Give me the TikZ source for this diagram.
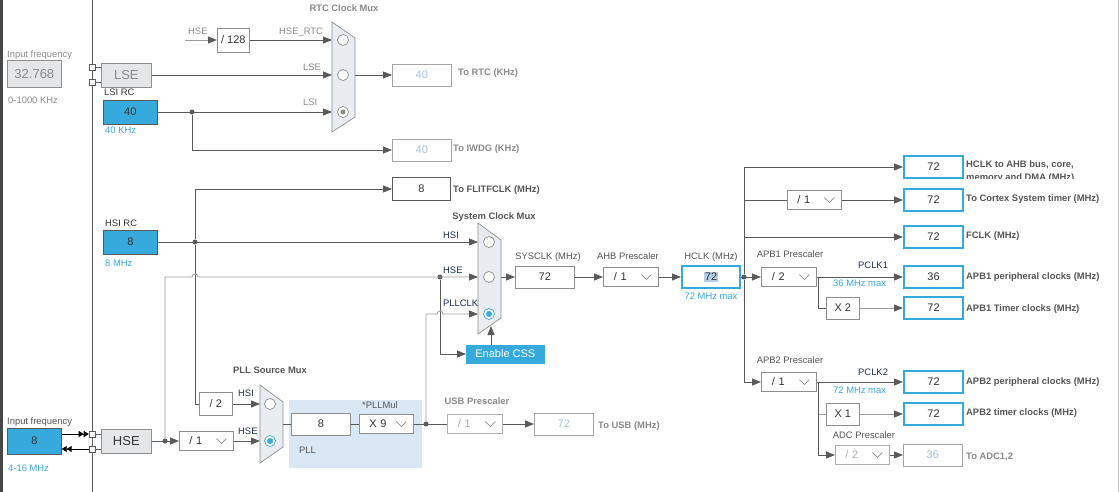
\documentclass[tikz,border=0pt]{standalone}
\usepackage{fontspec}
\setmainfont{Liberation Sans}
\usetikzlibrary{arrows.meta}

\definecolor{cubeblue}{HTML}{36A9DD}
\definecolor{wiregray}{HTML}{5A5A5A}
\definecolor{softgray}{HTML}{9C9C9C}
\definecolor{boxgray}{HTML}{8E8E8E}
\definecolor{oscfill}{HTML}{E5E6E8}
\definecolor{muxfill}{HTML}{E9EDF1}
\definecolor{pllbg}{HTML}{DAE7F4}
\definecolor{hlblue}{HTML}{B8CDE6}
\definecolor{darktext}{HTML}{333333}
\definecolor{labgray}{HTML}{8A8A8A}
\definecolor{midtext}{HTML}{555555}
\definecolor{offtext}{HTML}{A9C1DA}
\definecolor{bluetext}{HTML}{3AA8DC}
\definecolor{navytext}{HTML}{1F2D4D}

\tikzset{
  wire/.style={draw=wiregray, line width=0.8pt},
  soft/.style={draw=softgray, line width=0.8pt},
  arr/.style={-{Triangle[length=9pt,width=7pt,color=wiregray]}},
  dbl/.style={-{Triangle[length=5pt,width=6pt]Triangle[length=5pt,width=6pt]}},
  box/.style={draw=boxgray, line width=0.7pt, fill=white, anchor=west, inner sep=0pt,
    minimum width=59pt, minimum height=22pt, font=\fontsize{11}{12}\selectfont, text=darktext},
  outbox/.style={box, draw=cubeblue, line width=2pt},
  offbox/.style={box, draw=boxgray!80, text=offtext},
  srcbox/.style={box, fill=cubeblue, draw=black!65, minimum width=54pt, minimum height=24pt},
  oscbox/.style={box, fill=oscfill, minimum width=50pt, minimum height=24pt, font=\fontsize{13}{14}\selectfont},
  drop/.style={box, minimum width=54pt, minimum height=19pt, text width=34pt, align=left, inner xsep=10pt,
    path picture={\draw[boxgray, line width=0.6pt] ([shift={(-17,-2.5)}]path picture bounding box.east) -- ++(5,5) -- ++(5,-5);}},
  offdrop/.style={drop, text=labgray!70, draw=boxgray!70},
  mux/.style={draw=boxgray, fill=muxfill, line width=0.7pt},
  sel/.style={circle, draw=boxgray, line width=0.7pt, fill=white, minimum size=11pt, inner sep=0pt},
  dot/.style={circle, fill=wiregray, minimum size=5pt, inner sep=0pt},
  pad/.style={draw=wiregray, fill=white, line width=0.6pt, minimum size=6pt, inner sep=0pt},
  lab/.style={anchor=base west, inner sep=0pt, font=\fontsize{9.4}{11}\selectfont, text=midtext},
  blab/.style={lab, font=\fontsize{9.4}{11}\selectfont\bfseries}
}

\begin{document}
\begin{tikzpicture}[x=1pt,y=-1pt]
  \useasboundingbox (0,0) rectangle (1120,492);
  \fill[black!72] (0,0) rectangle (3,492);
  \draw[black!25, line width=0.8pt] (1118,0) -- (1118,492);
  \draw[wire] (92,0) -- (92,492);
  \fill[pllbg] (289,400) rectangle (422,468);

  \node[oscbox, text=labgray, minimum width=54pt, minimum height=27pt] (lsefreq) at (7,74) {32.768};
  \node[oscbox, text=labgray] (lse) at (101,75) {LSE};
  \node[srcbox] (lsi) at (103,112) {40};
  \node[box, minimum width=32pt, minimum height=24pt] (div128) at (217,40) {/ 128};
  \node[pad] (lsepadA) at (92,67) {};
  \node[pad] (lsepadB) at (92,82) {};
  \draw[mux] (332,22) -- (355,38) -- (355,117) -- (332,132) -- cycle;
  \node[sel] (rtcA) at (343,40) {};
  \node[sel] (rtcB) at (343,75) {};
  \node[sel] (rtcC) at (343,112) {};
  \fill[boxgray] (rtcC) circle (2.6);
  \coordinate (hsein) at (185,40);
  \coordinate (rtcinA) at (332,40);
  \coordinate (rtcinB) at (332,75);
  \coordinate (rtcinC) at (332,112);
  \coordinate (rtcout) at (355,75);
  \node[dot] (lsidot) at (192,112) {};
  \node[offbox] (rtc) at (392,75) {40};
  \node[offbox] (iwdg) at (392,150) {40};

  \draw[wire] (lsepadA.east) -- (lsepadA.east -| lse.west);
  \draw[wire] (lsepadB.east) -- (lsepadB.east -| lse.west);
  \draw[soft, arr] (hsein) -- (div128.west);
  \draw[wire, arr] (div128.east) -- (rtcinA);
  \draw[wire, arr] (lse.east) -- (rtcinB);
  \draw[wire, arr] (lsi.east) -- (rtcinC);
  \draw[wire, arr] (lsidot) |- (iwdg.west);
  \draw[wire, arr] (rtcout) -- (rtc.west);

  \node[srcbox] (hsi) at (103,242) {8};
  \node[box, draw=wiregray, minimum width=58pt, minimum height=23pt] (flit) at (392,189) {8};
  \node[dot] (hsidot) at (195,242) {};
  \draw[mux] (478,223) -- (501,240) -- (501,318) -- (478,334) -- cycle;
  \node[sel] (sysA) at (489,242) {};
  \node[sel] (sysB) at (489,277) {};
  \node[sel, draw=cubeblue] (sysC) at (489,314) {};
  \fill[cubeblue] (sysC) circle (3);
  \coordinate (sysinA) at (478,242);
  \coordinate (sysinB) at (478,277);
  \coordinate (sysinC) at (478,314);
  \coordinate (sysout) at (501,277);
  \coordinate (sysbot) at (491,326);
  \coordinate (hopA) at (192,277);
  \coordinate (hopB) at (437,314);
  \node[dot] (cssdot) at (440,277) {};
  \node[box, fill=cubeblue, draw=cubeblue, text=white, minimum width=78pt, minimum height=18pt] (css) at (466,354) {Enable CSS};
  \node[box] (sysclk) at (515,277) {72};
  \node[drop, minimum width=55pt] (ahb) at (603,277) {/ 1};
  \node[outbox, minimum width=58pt] (hclk) at (681,277) {{\fboxsep=1pt\colorbox{hlblue}{72}}};

  \node[srcbox, minimum height=26pt] (hsefreq) at (7,441) {8};
  \node[oscbox] (hse) at (101,441) {HSE};
  \node[pad] (hsepadA) at (92,434) {};
  \node[pad] (hsepadB) at (92,449) {};
  \node[dot] (hsedot) at (165,441) {};
  \node[drop] (hsediv) at (179,441) {/ 1};
  \node[box, minimum width=33pt, minimum height=23pt] (div2) at (199,404) {/ 2};
  \draw[mux] (260,385) -- (283,402) -- (283,447) -- (260,463) -- cycle;
  \node[sel] (pllA) at (270,404) {};
  \node[sel, draw=cubeblue] (pllB) at (270,441) {};
  \fill[cubeblue] (pllB) circle (3);
  \coordinate (pllinA) at (260,404);
  \coordinate (pllinB) at (260,441);
  \coordinate (pllout) at (283,424);
  \node[box] (pllin) at (291,424) {8};
  \node[drop] (pllmul) at (359,424) {X 9};
  \node[dot] (plldot) at (426,424) {};
  \node[offdrop, minimum width=55pt] (usbdiv) at (447,424) {/ 1};
  \node[offbox] (usb) at (534,424) {72};

  \draw[wire, arr] (hsi.east) -- (sysinA);
  \draw[wire, arr] (hsidot) |- (flit.west);
  \draw[wire] (hsidot) |- (div2.west);
  \draw[soft, arr] (hsedot) |- (hopA) arc[start angle=180, end angle=360, radius=3] -- (sysinB);
  \draw[wire, arr] (cssdot) |- (css.west);
  \draw[soft, arr] (plldot) |- (hopB) arc[start angle=180, end angle=360, radius=3] -- (sysinC);
  \draw[wire, arr] (css.north -| sysbot) -- (sysbot);
  \draw[wire, arr] (sysout) -- (sysclk.west);
  \draw[wire, arr] (sysclk.east) -- (ahb.west);
  \draw[wire, arr] (ahb.east) -- (hclk.west);

  \draw[black, line width=0.8pt, dbl] (hsefreq.east |- hsepadA) -- (hsepadA.west);
  \draw[black, line width=0.8pt, dbl] (hsepadB.west) -- (hsefreq.east |- hsepadB);
  \draw[wire] (hsepadA.east) -- (hsepadA.east -| hse.west);
  \draw[wire] (hsepadB.east) -- (hsepadB.east -| hse.west);
  \draw[wire, arr] (hse.east) -- (hsediv.west);
  \draw[wire, arr] (hsediv.east) -- (pllinB);
  \draw[wire, arr] (div2.east) -- (pllinA);
  \draw[wire] (pllout) -- (pllin.west);
  \draw[wire] (pllin.east) -- (pllmul.west);
  \draw[wire] (pllmul.east) -- (usbdiv.west);
  \draw[wire, arr] (usbdiv.east) -- (usb.west);

  \node[dot] (hclkdot) at (744,277) {};
  \node[outbox] (ahbout) at (903,167) {72};
  \node[drop] (cortexdiv) at (787,200) {/ 1};
  \node[outbox] (cortex) at (903,200) {72};
  \node[outbox] (fclk) at (903,237) {72};
  \node[drop, minimum width=55pt] (apb1) at (761,277) {/ 2};
  \node[outbox] (pclk1) at (903,277) {36};
  \node[box, minimum width=33pt] (x2) at (826,308) {X 2};
  \node[outbox] (tim1) at (903,308) {72};
  \coordinate (apb1br) at (818,277);
  \node[drop, minimum width=55pt] (apb2) at (761,382) {/ 1};
  \node[outbox] (pclk2) at (903,382) {72};
  \node[box, minimum width=33pt] (x1) at (826,414) {X 1};
  \node[outbox] (tim2) at (903,414) {72};
  \node[offdrop] (adc) at (835,455) {/ 2};
  \node[offbox] (adcout) at (903,455) {36};
  \coordinate (apb2br) at (818,382);

  \draw[wire, arr] (hclk.east) -- (apb1.west);
  \draw[wire, arr] (hclkdot) |- (ahbout.west);
  \draw[wire, arr] (hclkdot) |- (fclk.west);
  \draw[wire] (hclkdot) |- (cortexdiv.west);
  \draw[wire, arr] (cortexdiv.east) -- (cortex.west);
  \draw[wire, arr] (hclkdot) |- (apb2.west);
  \draw[wire, arr] (apb1.east) -- (pclk1.west);
  \draw[wire] (apb1br) |- (x2.west);
  \draw[soft, arr] (x2.east) -- (tim1.west);
  \draw[wire, arr] (apb2.east) -- (pclk2.west);
  \draw[soft] (apb2br) |- (x1.west);
  \draw[wire, arr] (apb2br) |- (adc.west);
  \draw[soft, arr] (x1.east) -- (tim2.west);
  \draw[wire, arr] (adc.east) -- (adcout.west);

  \node[lab, text=labgray] (inL) at (7,58) {Input frequency};
  \node[lab, text=labgray] (rngL) at (8,104) {0-1000 KHz};
  \node[lab, text=darktext] (lsiL) at (104,96) {LSI RC};
  \node[lab, text=bluetext] (lsiF) at (105,134) {40 KHz};
  \node[lab, text=labgray] (hseT) at (188,35) {HSE};
  \node[lab, text=labgray] (hrtcT) at (279,35) {HSE\_RTC};
  \node[lab, text=labgray] (lseT) at (303,71) {LSE};
  \node[lab, text=labgray] (lsiT) at (303,106) {LSI};
  \node[blab, text=labgray, anchor=base] (rtcT) at (344,12) {RTC Clock Mux};
  \node[blab, text=labgray] (rtcO) at (458,76) {To RTC (KHz)};
  \node[blab, text=labgray] (iwdgO) at (453,152) {To IWDG (KHz)};
  \node[lab, text=darktext] (hsiL) at (105,226) {HSI RC};
  \node[lab, text=bluetext] (hsiF) at (105,266) {8 MHz};
  \node[blab] (flitO) at (453,193) {To FLITFCLK (MHz)};
  \node[blab, anchor=base] (sysT) at (494,219) {System Clock Mux};
  \node[lab, text=navytext] (sysL1) at (443,239) {HSI};
  \node[lab, text=navytext] (sysL2) at (443,273) {HSE};
  \node[lab, text=navytext] (sysL3) at (443,306) {PLLCLK};
  \node[lab, anchor=base] (sysclkT) at (548,259) {SYSCLK (MHz)};
  \node[lab, anchor=base] (ahbT) at (628,259) {AHB Prescaler};
  \node[lab, anchor=base] (hclkT) at (711,259) {HCLK (MHz)};
  \node[lab, anchor=base, text=bluetext] (hclkM) at (711,299) {72 MHz max};
  \node[lab, anchor=base] (apb1T) at (790,258) {APB1 Prescaler};
  \node[lab, text=navytext] (pclk1T) at (858,268) {PCLK1};
  \node[lab, text=bluetext] (pclk1M) at (833,286) {36 MHz max};
  \begin{scope}
    \clip (962,150) rectangle (1110,179);
    \node[blab, anchor=north west, align=left, font=\fontsize{9.4}{13}\selectfont\bfseries] (ahbO) at (966,160) {HCLK to AHB bus, core,\\memory and DMA (MHz)};
  \end{scope}
  \node[blab] (cortexO) at (966,202) {To Cortex System timer (MHz)};
  \node[blab] (fclkO) at (966,239) {FCLK (MHz)};
  \node[blab] (pclk1O) at (966,279) {APB1 peripheral clocks (MHz)};
  \node[blab] (tim1O) at (966,311) {APB1 Timer clocks (MHz)};
  \node[lab, anchor=base] (apb2T) at (790,363) {APB2 Prescaler};
  \node[lab, text=navytext] (pclk2T) at (858,375) {PCLK2};
  \node[lab, text=bluetext] (pclk2M) at (833,393) {72 MHz max};
  \node[blab] (pclk2O) at (966,384) {APB2 peripheral clocks (MHz)};
  \node[blab] (tim2O) at (966,415) {APB2 timer clocks (MHz)};
  \node[lab, anchor=base] (adcT) at (864,438) {ADC Prescaler};
  \node[blab, text=labgray] (adcO) at (966,459) {To ADC1,2};
  \node[lab] (inH) at (7,424) {Input frequency};
  \node[lab, text=bluetext] (rngH) at (8,471) {4-16 MHz};
  \node[blab, anchor=base] (pllT) at (270,373) {PLL Source Mux};
  \node[lab, text=navytext] (pllL1) at (238,396) {HSI};
  \node[lab, text=navytext] (pllL2) at (238,434) {HSE};
  \node[lab, anchor=base] (mulT) at (380,408) {*PLLMul};
  \node[lab] (pllL) at (299,453) {PLL};
  \node[blab, text=labgray, anchor=base] (usbT) at (477,404) {USB Prescaler};
  \node[blab, text=labgray] (usbO) at (598,428) {To USB (MHz)};
\end{tikzpicture}
\end{document}
